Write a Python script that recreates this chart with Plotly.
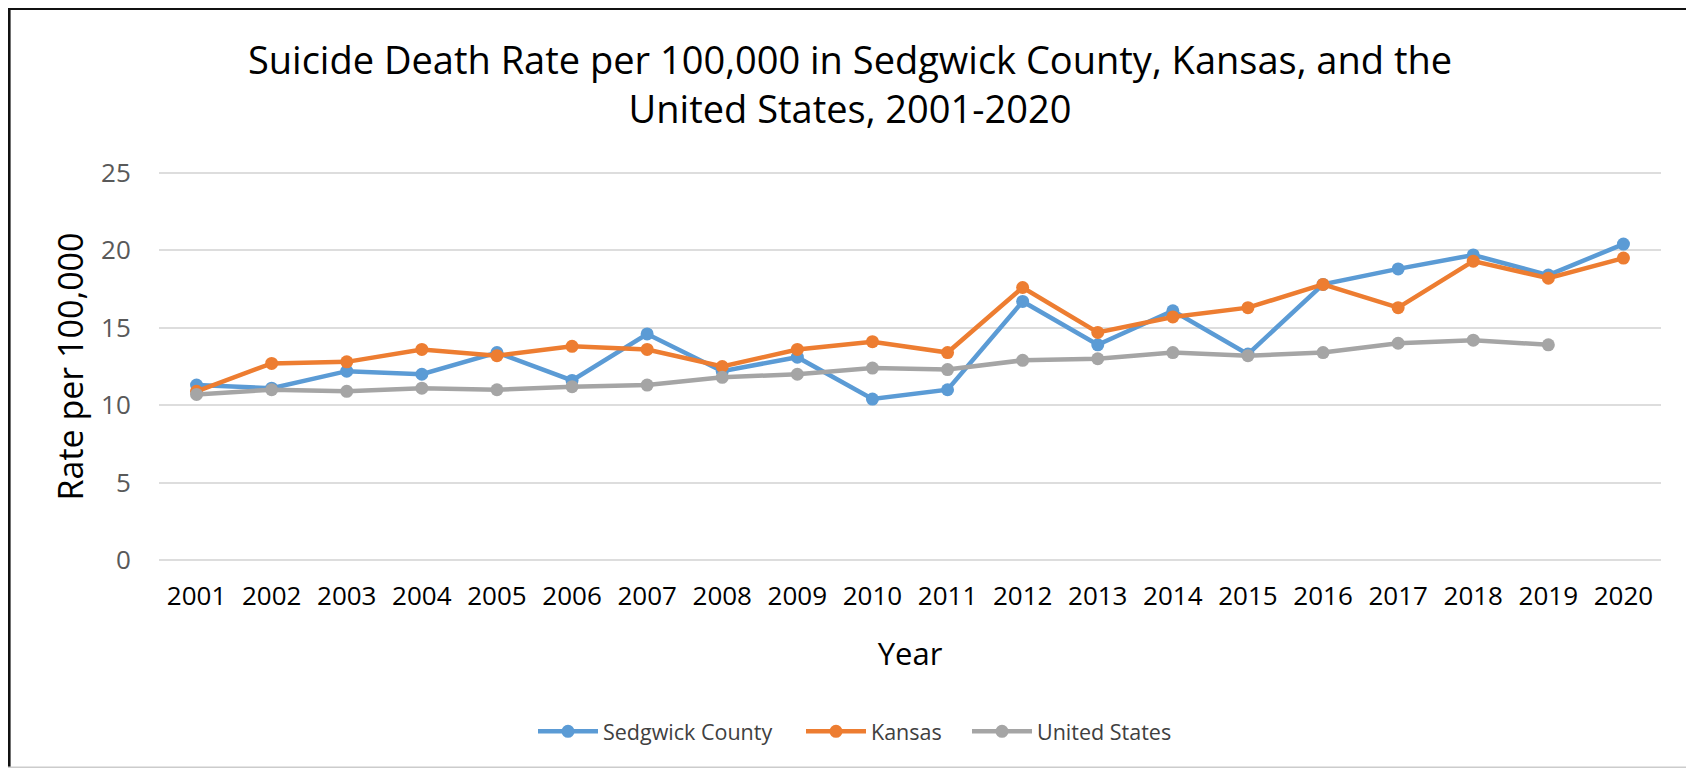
import plotly.graph_objects as go

# ---- data ----
years = [str(y) for y in range(2001, 2021)]
sedgwick = [11.3, 11.1, 12.2, 12.0, 13.4, 11.6, 14.6, 12.2, 13.1, 10.4,
            11.0, 16.7, 13.9, 16.1, 13.3, 17.8, 18.8, 19.7, 18.4, 20.4]
kansas = [10.9, 12.7, 12.8, 13.6, 13.2, 13.8, 13.6, 12.5, 13.6, 14.1,
          13.4, 17.6, 14.7, 15.7, 16.3, 17.8, 16.3, 19.3, 18.2, 19.5]
united_states = [10.7, 11.0, 10.9, 11.1, 11.0, 11.2, 11.3, 11.8, 12.0, 12.4,
                 12.3, 12.9, 13.0, 13.4, 13.2, 13.4, 14.0, 14.2, 13.9, None]
y_ticks = [0, 5, 10, 15, 20, 25]

series_names = ["Sedgwick County", "Kansas", "United States"]
series_colors = ["#5B9BD5", "#ED7D31", "#A5A5A5"]

# ---- layout geometry ----
# The page body has an 8px default margin, so the figure starts at page (8, 8).
OX, OY = 8, 8
W, H = 1694 - OX, 768 - OY
PAD = 0.12                       # small range padding so edge gridlines are drawn
UNIT = (560 - 173.3) / 25        # pixels per rate unit in the reference
TOP_PAGE = 173.3 - PAD * UNIT
BOTTOM_PAGE = 560 + PAD * UNIT
L, T = 159 - OX, TOP_PAGE - OY
PLOT_RIGHT, PLOT_BOTTOM = 1661 - OX, BOTTOM_PAGE - OY
R, B = W - PLOT_RIGHT, H - PLOT_BOTTOM
PW, PH = W - L - R, H - T - B


def px_x(page_x):
    return (page_x - OX - L) / PW


def px_y(page_y):
    return (BOTTOM_PAGE - page_y) / PH


FONT = "Open Sans"

fig = go.Figure()
legend_ids = ["legend", "legend2", "legend3"]
for name, vals, col, lg in zip(series_names, [sedgwick, kansas, united_states],
                                series_colors, legend_ids):
    fig.add_trace(go.Scatter(
        x=years, y=vals, name=name, mode="lines+markers",
        line=dict(color=col, width=4.5),
        marker=dict(color=col, size=13),
        connectgaps=False, legend=lg,
    ))

# frame around the chart
shapes = [
    dict(type="line", xref="paper", yref="paper", x0=px_x(9.3), x1=px_x(9.3), y0=px_y(8), y1=px_y(768),
         line=dict(color="#111111", width=2.6)),
    dict(type="line", xref="paper", yref="paper", x0=px_x(8), x1=px_x(1691), y0=px_y(9.3), y1=px_y(9.3),
         line=dict(color="#111111", width=2.6)),
    dict(type="line", xref="paper", yref="paper", x0=px_x(1690), x1=px_x(1690), y0=px_y(8), y1=px_y(768),
         line=dict(color="#333333", width=3)),
    dict(type="line", xref="paper", yref="paper", x0=px_x(8), x1=px_x(1690), y0=px_y(767), y1=px_y(767),
         line=dict(color="#CCCCCC", width=2)),
]

legend_style = dict(
    orientation="h", yanchor="middle", xanchor="left",
    font=dict(family=FONT, size=21.5, color="#404040"),
    bgcolor="rgba(0,0,0,0)", itemwidth=60,
)
legend_x_page = [533, 801, 967]

layout_legends = {}
for lg, lx in zip(legend_ids, legend_x_page):
    layout_legends[lg] = dict(legend_style, x=px_x(lx), y=px_y(731))

fig.update_layout(
    width=W, height=H,
    margin=dict(l=L, r=R, t=T, b=B, autoexpand=False),
    paper_bgcolor="white", plot_bgcolor="white",
    font=dict(family=FONT, color="#000000"),
    title=dict(
        text="Suicide Death Rate per 100,000 in Sedgwick County, Kansas, and the<br>United States, 2001-2020",
        font=dict(family=FONT, size=38, color="#000000"),
        x=(850 - OX) / W, xref="container", xanchor="center",
        y=1 - 66 / H, yref="container", yanchor="middle",
    ),
    xaxis=dict(
        type="category", range=[-0.5, 19.5],
        showgrid=False, zeroline=False, showline=False,
        ticks="outside", ticklen=13 - PAD * UNIT, tickcolor="rgba(0,0,0,0)",
        tickfont=dict(family=FONT, size=26, color="#000000"),
        title=dict(text="Year", font=dict(family=FONT, size=31, color="#000000"), standoff=30),
    ),
    yaxis=dict(
        range=[-PAD, 25 + PAD], tickvals=y_ticks,
        showgrid=True, gridcolor="#DDDDDD", gridwidth=1.5,
        zeroline=False, showline=False,
        ticks="outside", ticklen=22, tickcolor="rgba(0,0,0,0)",
        tickfont=dict(family=FONT, size=26, color="#595959"),
        title=dict(text="Rate per 100,000", font=dict(family=FONT, size=34, color="#000000"), standoff=7),
    ),
    shapes=shapes,
    showlegend=True,
    **layout_legends,
)

fig.write_html("out.html")
